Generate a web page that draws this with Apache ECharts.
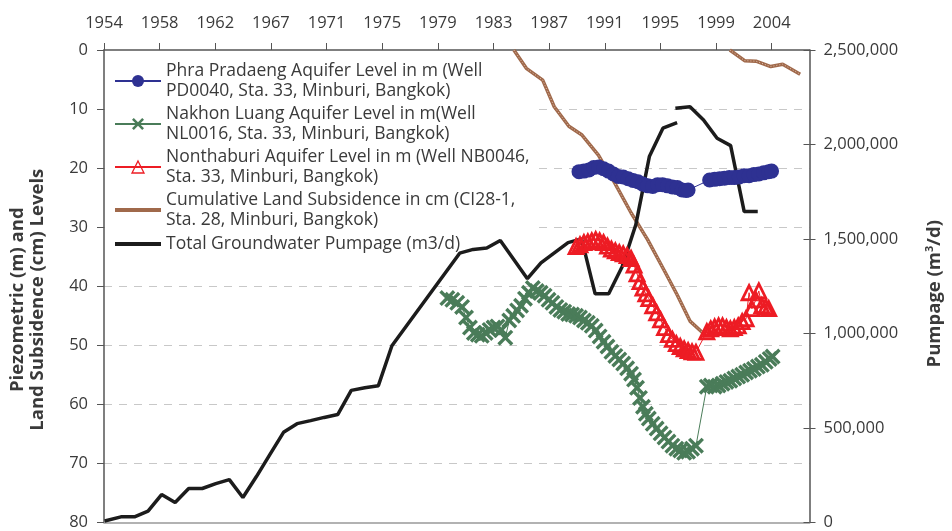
<!DOCTYPE html>
<html>
<head>
<meta charset="utf-8">
<title>Minburi groundwater levels, subsidence and pumpage</title>
<script src="https://cdn.jsdelivr.net/npm/echarts@6/dist/echarts.min.js"></script>
<style>
  html, body { margin: 0; padding: 0; background: #fff; }
  #chart { width: 952px; height: 531px; }
</style>
</head>
<body>
<div id="chart"></div>
<script>
// top axis: one tick every 1500 days from the first pumpage date
const yearTicks = ['1954', '1958', '1962', '1967', '1971', '1975', '1979', '1983', '1987', '1991', '1995', '1999', '2004']
const AXIS_START = 1954.75
const TICK_STEP = 1500 / 365.25
const AXIS_END = 2006.82

const seriesNames = [
  'Phra Pradaeng Aquifer Level in m (Well\nPD0040, Sta. 33, Minburi, Bangkok)',
  'Nakhon Luang Aquifer Level in m(Well\nNL0016, Sta. 33, Minburi, Bangkok)',
  'Nonthaburi Aquifer Level in m (Well NB0046,\nSta. 33, Minburi, Bangkok)',
  'Cumulative Land Subsidence in cm (CI28-1,\nSta. 28, Minburi, Bangkok)',
  'Total Groundwater Pumpage (m3/d)'
]

// [year, m below ground]
const phraPradaeng = [
  [1989.81, 20.6], [1990.17, 20.5], [1990.54, 20.3], [1990.90, 19.9], [1991.26, 19.8],
  [1991.62, 20.1], [1991.99, 20.5], [1992.35, 21.0], [1992.71, 21.4], [1993.07, 21.5],
  [1993.44, 21.8], [1993.80, 22.1], [1994.16, 22.3], [1994.52, 22.7], [1994.89, 23.0],
  [1995.25, 23.1], [1995.61, 22.8], [1995.97, 22.8], [1996.34, 23.0], [1996.70, 23.2],
  [1997.06, 23.3], [1997.42, 23.7], [1997.71, 23.8], [1997.86, 23.7],
  [1999.45, 22.0], [1999.82, 21.9], [2000.18, 21.8], [2000.54, 21.7], [2000.90, 21.6],
  [2001.27, 21.6], [2001.63, 21.5], [2001.99, 21.3], [2002.36, 21.3], [2002.72, 21.1],
  [2003.08, 21.0], [2003.44, 20.8], [2003.81, 20.6], [2004.02, 20.5]
]

const nakhonLuang = [
  [1980.09, 42.0], [1980.46, 42.3], [1980.82, 42.8], [1981.18, 43.5], [1981.47, 45.3],
  [1981.76, 47.0], [1982.05, 47.9], [1982.34, 48.2], [1982.63, 48.4], [1982.92, 47.9],
  [1983.21, 47.4], [1983.50, 47.0], [1983.79, 46.8], [1984.08, 47.4], [1984.37, 48.7],
  [1984.66, 45.8], [1984.95, 45.0], [1985.24, 44.1], [1985.53, 43.3], [1985.82, 42.1],
  [1986.11, 41.1], [1986.40, 40.3], [1986.69, 40.8], [1986.98, 41.1], [1987.27, 41.6],
  [1987.56, 42.3], [1987.85, 42.8], [1988.14, 43.5], [1988.43, 44.0], [1988.72, 44.3],
  [1989.01, 44.7], [1989.30, 44.8], [1989.59, 45.0], [1989.88, 45.3], [1990.17, 45.8],
  [1990.46, 46.2], [1990.75, 46.7], [1991.04, 47.5], [1991.33, 48.5], [1991.62, 49.4],
  [1991.91, 50.2], [1992.20, 51.1], [1992.49, 51.8], [1992.78, 52.4], [1993.07, 53.1],
  [1993.36, 53.9], [1993.65, 54.8], [1993.87, 55.8], [1994.09, 57.2], [1994.31, 58.9],
  [1994.53, 60.4], [1994.74, 61.6], [1994.96, 62.4], [1995.25, 63.3], [1995.54, 64.1],
  [1995.83, 64.9], [1996.12, 65.6], [1996.41, 66.3], [1996.70, 67.0], [1996.99, 67.5],
  [1997.28, 67.8], [1997.57, 68.2], [1997.86, 68.0], [1998.15, 67.5], [1998.44, 67.0],
  [1999.24, 57.0], [1999.53, 56.8], [1999.82, 57.0], [2000.11, 56.8], [2000.40, 56.5],
  [2000.69, 56.2], [2000.98, 56.0], [2001.27, 55.6], [2001.56, 55.3], [2001.85, 55.0],
  [2002.14, 54.6], [2002.43, 54.3], [2002.72, 54.0], [2003.01, 53.6], [2003.30, 53.3],
  [2003.59, 52.8], [2003.88, 52.3], [2004.10, 51.9]
]

const nonthaburi = [
  [1989.59, 33.3], [1989.88, 33.0], [1990.17, 32.6], [1990.46, 32.5], [1990.75, 32.3],
  [1991.04, 32.1], [1991.33, 32.3], [1991.62, 32.6], [1991.91, 33.2], [1992.20, 33.7],
  [1992.49, 34.0], [1992.78, 34.3], [1993.07, 34.5], [1993.36, 34.8], [1993.65, 35.3],
  [1993.87, 36.4], [1994.09, 37.9], [1994.31, 39.2], [1994.53, 40.3], [1994.74, 41.3],
  [1994.96, 42.1], [1995.25, 43.3], [1995.54, 44.5], [1995.83, 45.7], [1996.12, 47.0],
  [1996.41, 48.2], [1996.70, 49.0], [1996.99, 49.7], [1997.28, 50.2], [1997.57, 50.6],
  [1997.86, 50.9], [1998.15, 51.1], [1998.44, 51.2],
  [1999.24, 47.7], [1999.53, 47.2], [1999.82, 46.9], [2000.11, 46.7], [2000.40, 46.7],
  [2000.69, 47.0], [2000.98, 47.2], [2001.27, 47.0], [2001.56, 46.7], [2001.85, 46.0],
  [2002.14, 45.5], [2002.36, 41.1], [2002.57, 43.8], [2002.86, 42.3], [2003.08, 40.8],
  [2003.30, 43.3], [2003.59, 43.5], [2003.81, 43.8]
]

// cm, two separate survey runs
const subsidence = [
  [1985.00, 0], [1985.92, 3.1], [1987.13, 5.1], [1987.98, 9.6], [1989.06, 12.9],
  [1990.03, 14.4], [1991.24, 17.8], [1992.44, 22.5], [1993.66, 27.6], [1994.87, 32.1],
  [1996.07, 37.2], [1997.04, 41.4], [1998.00, 45.9], [1999.10, 48.2],
  [2000, '-'],
  [2000.94, 0], [2002.03, 1.8], [2002.87, 1.9], [2003.96, 2.8], [2004.84, 2.4], [2006.13, 4.1]
]

// m3/d
const pumpage = [
  [1954.8, 8000], [1956, 30000], [1957, 30000], [1958, 60000], [1959, 148000],
  [1960, 106000], [1961, 180000], [1962, 180000], [1963, 206000], [1964, 227000],
  [1965, 132000], [1966, 243000], [1967, 360000], [1968, 477000], [1969, 523000],
  [1970, 539000], [1971, 556000], [1972, 571000], [1973, 699000], [1974, 713000],
  [1975, 724000], [1976, 935000], [1981, 1425000], [1982, 1445000], [1983, 1452000],
  [1984, 1492000], [1986, 1290000], [1987, 1374000], [1989, 1481000], [1990, 1501000],
  [1991, 1210000], [1992, 1210000], [1993, 1355000], [1994, 1575000], [1995, 1936000],
  [1996, 2086000], [1997.05, 2116000],
  [1997, '-'],
  [1996.92, 2192000], [1998, 2200000], [1999, 2130000], [2000, 2033000], [2001, 1994000],
  [2002, 1645000], [2003, 1645000]
]

const FONT = 'Open Sans'
const TEXT = '#3a3a3a'
const AXIS = '#555'
const CROSS = 'path://M0,1.5L1.5,0L5,3.5L8.5,0L10,1.5L6.5,5L10,8.5L8.5,10L5,6.5L1.5,10L0,8.5L3.5,5Z'
const BAR = 'path://M0,0H46V4H0Z'
const BROWN = '#a0694b'

const xTickValues = yearTicks.map((t, i) => AXIS_START + i * TICK_STEP)

const chart = echarts.init(document.getElementById('chart'))

chart.setOption({
  animation: false,
  textStyle: { fontFamily: FONT },
  grid: { left: 104, right: 131, top: 50, bottom: 8 },
  legend: {
    orient: 'vertical',
    left: 105,
    top: 55,
    z: 1, // under the series, over the grid lines
    selectedMode: false,
    backgroundColor: '#fff',
    padding: [7, 5, 5, 9],
    itemWidth: 46,
    itemHeight: 15,
    itemGap: 5,
    // negative bottom padding keeps the icon level with the first text line
    textStyle: { fontSize: 17.5, color: TEXT, lineHeight: 20, padding: [0, 0, -20, 0] },
    data: [
      { name: seriesNames[0] },
      { name: seriesNames[1] },
      { name: seriesNames[2], itemStyle: { borderWidth: 1.3 } },
      { name: seriesNames[3], icon: BAR },
      { name: seriesNames[4], icon: BAR, textStyle: { padding: 0 } }
    ]
  },
  xAxis: [{
    type: 'value',
    position: 'top',
    min: AXIS_START,
    max: AXIS_END,
    axisLine: { lineStyle: { color: AXIS, width: 1.5 } },
    axisTick: { length: 7, customValues: xTickValues, lineStyle: { color: AXIS } },
    axisLabel: {
      customValues: xTickValues,
      formatter: v => yearTicks[Math.round((v - AXIS_START) / TICK_STEP)] || '',
      fontSize: 16.5,
      color: TEXT,
      margin: 18
    },
    splitLine: { show: false }
  }, {
    // plain bottom border
    type: 'value',
    position: 'bottom',
    min: AXIS_START,
    max: AXIS_END,
    axisLine: { lineStyle: { color: '#999', width: 1.5 } },
    axisTick: { show: false },
    axisLabel: { show: false },
    splitLine: { show: false }
  }],
  yAxis: [{
    type: 'value',
    inverse: true,
    min: 0,
    max: 80,
    interval: 10,
    position: 'left',
    name: 'Piezometric (m) and\nLand Subsidence (cm) Levels',
    nameLocation: 'middle',
    nameRotate: 90,
    nameGap: 56,
    nameTextStyle: { fontSize: 18.5, fontWeight: 'bold', color: TEXT, lineHeight: 20, padding: [0, 27, 0, 0] },
    axisLine: { show: true, lineStyle: { color: AXIS, width: 1.5 } },
    axisTick: { show: true, length: 7, lineStyle: { color: AXIS } },
    axisLabel: { fontSize: 16.5, color: TEXT, margin: 16 },
    splitLine: {
      show: true,
      showMinLine: false,
      showMaxLine: false,
      lineStyle: { color: '#c8c8c8', type: [8, 7] }
    }
  }, {
    type: 'value',
    min: 0,
    max: 2500000,
    interval: 500000,
    position: 'right',
    name: 'Pumpage (m{s|3}/d)',
    nameLocation: 'middle',
    nameRotate: 90,
    nameGap: 115,
    nameTextStyle: {
      fontSize: 18.5,
      fontWeight: 'bold',
      color: TEXT,
      padding: [0, 15, 0, 0],
      rich: { s: { fontSize: 11, fontWeight: 'bold', color: TEXT, verticalAlign: 'top', lineHeight: 20 } }
    },
    axisLine: { show: true, lineStyle: { color: AXIS, width: 1.5 } },
    axisTick: { show: true, length: 6, lineStyle: { color: AXIS } },
    axisLabel: { fontSize: 16.5, color: TEXT, margin: 14, formatter: v => v.toLocaleString('en-US') },
    splitLine: { show: false }
  }, {
    // inner half of the crossing ticks on the right axis
    type: 'value',
    min: 0,
    max: 2500000,
    interval: 500000,
    position: 'right',
    axisLine: { show: false },
    axisTick: { show: true, inside: true, length: 6, lineStyle: { color: AXIS } },
    axisLabel: { show: false },
    splitLine: { show: false }
  }],
  series: [{
    name: seriesNames[0],
    type: 'line',
    yAxisIndex: 0,
    data: phraPradaeng,
    symbol: 'circle',
    symbolSize: 15,
    itemStyle: { color: '#2e3192' },
    lineStyle: { color: '#2e3192', width: 1 }
  }, {
    name: seriesNames[1],
    type: 'line',
    yAxisIndex: 0,
    data: nakhonLuang,
    symbol: CROSS,
    symbolSize: 16,
    itemStyle: { color: '#4a7c59' },
    lineStyle: { color: '#4a7c59', width: 1 }
  }, {
    name: seriesNames[2],
    type: 'line',
    yAxisIndex: 0,
    data: nonthaburi,
    symbol: 'triangle',
    symbolSize: 14,
    itemStyle: { color: 'rgba(255,255,255,0)', borderColor: '#ed1c24', borderWidth: 2.8 },
    lineStyle: { color: '#ed1c24', width: 1 }
  }, {
    name: seriesNames[3],
    type: 'line',
    yAxisIndex: 0,
    data: subsidence,
    symbol: 'none',
    connectNulls: false,
    itemStyle: { color: BROWN },
    lineStyle: { color: BROWN, width: 3.5 }
  }, {
    // light speckle running inside the subsidence line
    name: 'subsidence texture',
    type: 'line',
    yAxisIndex: 0,
    data: subsidence,
    symbol: 'none',
    connectNulls: false,
    silent: true,
    lineStyle: { color: 'rgba(255,235,220,0.7)', width: 1, type: [1, 2] }
  }, {
    name: seriesNames[4],
    type: 'line',
    yAxisIndex: 1,
    data: pumpage,
    symbol: 'none',
    connectNulls: false,
    itemStyle: { color: '#1c1c1c' },
    lineStyle: { color: '#1c1c1c', width: 3.5 }
  }]
})

window.addEventListener('resize', () => chart.resize())
</script>
</body>
</html>
